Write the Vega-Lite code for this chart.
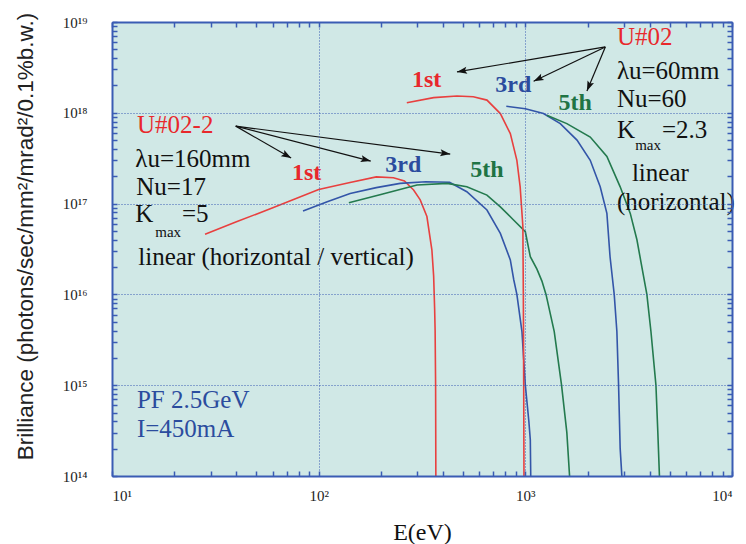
{
  "$schema": "https://vega.github.io/schema/vega-lite/v6.json",
  "width": 620,
  "height": 454,
  "autosize": {"type": "none"},
  "padding": {"left": 112, "top": 22, "right": 14, "bottom": 68},
  "background": "white",
  "config": {
    "view": {"fill": "#d0e8e6", "stroke": null},
    "axis": {
      "domainColor": "#3a5cb4", "domainWidth": 2,
      "tickColor": "#3a5cb4", "tickWidth": 1.5,
      "labelFont": "Liberation Serif",
      "titleFont": "Liberation Serif",
      "labelColor": "#222222", "titleColor": "#111111"
    }
  },
  "datasets": {
    "curves": [
      {"series": "U02-2 1st", "E": 28.2, "B": 4.6e16},
      {"series": "U02-2 1st", "E": 40, "B": 6.3e16},
      {"series": "U02-2 1st", "E": 60, "B": 9.0e16},
      {"series": "U02-2 1st", "E": 100, "B": 1.43e17},
      {"series": "U02-2 1st", "E": 140, "B": 1.7e17},
      {"series": "U02-2 1st", "E": 190, "B": 1.97e17},
      {"series": "U02-2 1st", "E": 230, "B": 1.93e17},
      {"series": "U02-2 1st", "E": 260, "B": 1.78e17},
      {"series": "U02-2 1st", "E": 288, "B": 1.41e17},
      {"series": "U02-2 1st", "E": 310, "B": 1.1e17},
      {"series": "U02-2 1st", "E": 334, "B": 7.2e16},
      {"series": "U02-2 1st", "E": 353, "B": 3.1e16},
      {"series": "U02-2 1st", "E": 360, "B": 1.6e16},
      {"series": "U02-2 1st", "E": 364, "B": 7e15},
      {"series": "U02-2 1st", "E": 366, "B": 4e15},
      {"series": "U02-2 1st", "E": 368, "B": 1e15},
      {"series": "U02-2 1st", "E": 369, "B": 1e14},

      {"series": "U02-2 3rd", "E": 84, "B": 8.3e16},
      {"series": "U02-2 3rd", "E": 110, "B": 1.05e17},
      {"series": "U02-2 3rd", "E": 142, "B": 1.29e17},
      {"series": "U02-2 3rd", "E": 190, "B": 1.5e17},
      {"series": "U02-2 3rd", "E": 248, "B": 1.67e17},
      {"series": "U02-2 3rd", "E": 330, "B": 1.74e17},
      {"series": "U02-2 3rd", "E": 430, "B": 1.72e17},
      {"series": "U02-2 3rd", "E": 521, "B": 1.35e17},
      {"series": "U02-2 3rd", "E": 652, "B": 8.5e16},
      {"series": "U02-2 3rd", "E": 757, "B": 4.7e16},
      {"series": "U02-2 3rd", "E": 846, "B": 2.4e16},
      {"series": "U02-2 3rd", "E": 879, "B": 1.45e16},
      {"series": "U02-2 3rd", "E": 910, "B": 1e16},
      {"series": "U02-2 3rd", "E": 963, "B": 3.9e15},
      {"series": "U02-2 3rd", "E": 1000, "B": 1e15},
      {"series": "U02-2 3rd", "E": 1040, "B": 4e14},
      {"series": "U02-2 3rd", "E": 1057, "B": 2.5e14},
      {"series": "U02-2 3rd", "E": 1062, "B": 1e14},

      {"series": "U02-2 5th", "E": 140, "B": 1.02e17},
      {"series": "U02-2 5th", "E": 200, "B": 1.26e17},
      {"series": "U02-2 5th", "E": 299, "B": 1.6e17},
      {"series": "U02-2 5th", "E": 418, "B": 1.67e17},
      {"series": "U02-2 5th", "E": 521, "B": 1.53e17},
      {"series": "U02-2 5th", "E": 652, "B": 1.24e17},
      {"series": "U02-2 5th", "E": 757, "B": 9.2e16},
      {"series": "U02-2 5th", "E": 877, "B": 6.6e16},
      {"series": "U02-2 5th", "E": 1000, "B": 4.9e16},
      {"series": "U02-2 5th", "E": 1057, "B": 2.6e16},
      {"series": "U02-2 5th", "E": 1138, "B": 1.9e16},
      {"series": "U02-2 5th", "E": 1203, "B": 1.4e16},
      {"series": "U02-2 5th", "E": 1259, "B": 1e16},
      {"series": "U02-2 5th", "E": 1380, "B": 3.9e15},
      {"series": "U02-2 5th", "E": 1497, "B": 1e15},
      {"series": "U02-2 5th", "E": 1588, "B": 3e14},
      {"series": "U02-2 5th", "E": 1637, "B": 1e14},

      {"series": "U02 1st", "E": 267, "B": 1.29e18},
      {"series": "U02 1st", "E": 360, "B": 1.47e18},
      {"series": "U02 1st", "E": 467, "B": 1.53e18},
      {"series": "U02 1st", "E": 560, "B": 1.5e18},
      {"series": "U02 1st", "E": 652, "B": 1.38e18},
      {"series": "U02 1st", "E": 757, "B": 9.8e17},
      {"series": "U02 1st", "E": 846, "B": 5.9e17},
      {"series": "U02 1st", "E": 910, "B": 3.0e17},
      {"series": "U02 1st", "E": 944, "B": 1.53e17},
      {"series": "U02 1st", "E": 973, "B": 5.6e16},
      {"series": "U02 1st", "E": 978, "B": 1e16},
      {"series": "U02 1st", "E": 982, "B": 1e15},
      {"series": "U02 1st", "E": 985, "B": 1e14},

      {"series": "U02 3rd", "E": 809, "B": 1.18e18},
      {"series": "U02 3rd", "E": 1000, "B": 1.11e18},
      {"series": "U02 3rd", "E": 1224, "B": 9.8e17},
      {"series": "U02 3rd", "E": 1476, "B": 7.6e17},
      {"series": "U02 3rd", "E": 1778, "B": 5.0e17},
      {"series": "U02 3rd", "E": 2061, "B": 3.0e17},
      {"series": "U02 3rd", "E": 2303, "B": 1.53e17},
      {"series": "U02 3rd", "E": 2481, "B": 7.8e16},
      {"series": "U02 3rd", "E": 2570, "B": 2.6e16},
      {"series": "U02 3rd", "E": 2692, "B": 1e16},
      {"series": "U02 3rd", "E": 2773, "B": 3.9e15},
      {"series": "U02 3rd", "E": 2826, "B": 1e15},
      {"series": "U02 3rd", "E": 2877, "B": 2e14},
      {"series": "U02 3rd", "E": 2931, "B": 1e14},

      {"series": "U02 5th", "E": 1270, "B": 9.4e17},
      {"series": "U02 5th", "E": 1588, "B": 7.6e17},
      {"series": "U02 5th", "E": 2061, "B": 5.4e17},
      {"series": "U02 5th", "E": 2481, "B": 3.3e17},
      {"series": "U02 5th", "E": 2877, "B": 1.53e17},
      {"series": "U02 5th", "E": 3219, "B": 7.8e16},
      {"series": "U02 5th", "E": 3467, "B": 4e16},
      {"series": "U02 5th", "E": 3623, "B": 2.3e16},
      {"series": "U02 5th", "E": 3873, "B": 1e16},
      {"series": "U02 5th", "E": 4053, "B": 3.9e15},
      {"series": "U02 5th", "E": 4285, "B": 1e15},
      {"series": "U02 5th", "E": 4377, "B": 3e14},
      {"series": "U02 5th", "E": 4456, "B": 1e14}
    ],
    "arrows": [
      {"x": 39.7, "y": 7.13e17, "x2": 73.6, "y2": 3.17e17, "dir": 120},
      {"x": 39.7, "y": 7.13e17, "x2": 178.6, "y2": 2.94e17, "dir": 104.5},
      {"x": 39.7, "y": 7.13e17, "x2": 433, "y2": 3.51e17, "dir": 97.4},
      {"x": 2438, "y": 5.31e18, "x2": 467, "y2": 2.82e18, "dir": 260.4},
      {"x": 2438, "y": 5.31e18, "x2": 1097, "y2": 2.23e18, "dir": 244.4},
      {"x": 2438, "y": 5.31e18, "x2": 1986, "y2": 1.74e18, "dir": 202.6}
    ],
    "notes": [
      {"kind": "main", "tone": "red", "text": "U#02-2", "x": 13.22, "y": 5.92e17},
      {"kind": "main", "tone": "black", "text": "λu=160mm", "x": 12.97, "y": 2.54e17},
      {"kind": "main", "tone": "black", "text": "Nu=17", "x": 13.11, "y": 1.24e17},
      {"kind": "main", "tone": "black", "text": "K", "x": 12.97, "y": 6.31e16},
      {"kind": "main", "tone": "black", "text": "=5", "x": 21.8, "y": 6.31e16},
      {"kind": "main", "tone": "black", "text": "linear (horizontal / vertical)", "x": 13.4, "y": 2.11e16},
      {"kind": "main", "tone": "red", "text": "U#02", "x": 2773, "y": 5.55e18},
      {"kind": "main", "tone": "black", "text": "λu=60mm", "x": 2773, "y": 2.38e18},
      {"kind": "main", "tone": "black", "text": "Nu=60", "x": 2773, "y": 1.16e18},
      {"kind": "main", "tone": "black", "text": "K", "x": 2773, "y": 5.22e17},
      {"kind": "main", "tone": "black", "text": "=2.3", "x": 4581, "y": 5.22e17},
      {"kind": "main", "tone": "black", "text": "linear", "x": 3279, "y": 1.77e17},
      {"kind": "main", "tone": "black", "text": "(horizontal)", "x": 2773, "y": 8.48e16},
      {"kind": "main", "tone": "blue", "text": "PF 2.5GeV", "x": 13.2, "y": 5.58e14},
      {"kind": "main", "tone": "blue", "text": "I=450mA", "x": 13.2, "y": 2.72e14},
      {"kind": "sub", "tone": "black", "text": "max", "x": 16.2, "y": 4.31e16},
      {"kind": "sub", "tone": "black", "text": "max", "x": 3401, "y": 3.88e17},
      {"kind": "harm", "tone": "red", "text": "1st", "x": 282.8, "y": 1.93e18},
      {"kind": "harm", "tone": "blue", "text": "3rd", "x": 715, "y": 1.70e18},
      {"kind": "harm", "tone": "green", "text": "5th", "x": 1448, "y": 1.07e18},
      {"kind": "harm", "tone": "red", "text": "1st", "x": 74.3, "y": 1.81e17},
      {"kind": "harm", "tone": "blue", "text": "3rd", "x": 210, "y": 2.24e17},
      {"kind": "harm", "tone": "green", "text": "5th", "x": 541, "y": 1.97e17}
    ]
  },
  "layer": [
    {
      "layer": [
        {
          "data": {"name": "curves"},
          "mark": {"type": "line", "strokeWidth": 1.6, "clip": true},
          "encoding": {
            "x": {
              "field": "E", "type": "quantitative",
              "scale": {"type": "log", "domain": [10, 10000], "nice": false},
              "axis": {
                "orient": "bottom", "zindex": 1,
                "values": [10, 100, 1000, 10000],
                "labelExpr": "datum.value == 10 ? '10¹' : datum.value == 100 ? '10²' : datum.value == 1000 ? '10³' : '10⁴'",
                "grid": true, "gridColor": "#3a5cb4", "gridDash": [1, 2],
                "ticks": false, "domain": true, "domainColor": "#3a5cb4", "domainWidth": 2,
                "labelFontSize": 15, "labelPadding": 12,
                "title": "E(eV)", "titleFontSize": 24, "titleFontWeight": "normal",
                "titleX": 310, "titleY": 56, "titleAlign": "center", "titleBaseline": "middle"
              }
            },
            "y": {
              "field": "B", "type": "quantitative",
              "scale": {"type": "log", "domain": [1e14, 1e19], "nice": false},
              "axis": {
                "orient": "left", "zindex": 1,
                "values": [1e14, 1e15, 1e16, 1e17, 1e18, 1e19],
                "labelExpr": "datum.value == 1e14 ? '10¹⁴' : datum.value == 1e15 ? '10¹⁵' : datum.value == 1e16 ? '10¹⁶' : datum.value == 1e17 ? '10¹⁷' : datum.value == 1e18 ? '10¹⁸' : '10¹⁹'",
                "grid": true, "gridColor": "#3a5cb4", "gridDash": [1, 2],
                "ticks": false, "domain": true, "domainColor": "#3a5cb4", "domainWidth": 2,
                "labelFontSize": 15, "labelPadding": 25, "labelBaseline": "middle",
                "title": "Brilliance (photons/sec/mm²/mrad²/0.1%b.w.)",
                "titleFont": "Liberation Sans", "titleFontSize": 22.5, "titleFontWeight": "normal", "titleColor": "#222222",
                "titleAngle": -90, "titleX": -87, "titleY": 214, "titleAlign": "center", "titleBaseline": "middle"
              }
            },
            "color": {
              "field": "series", "type": "nominal",
              "scale": {
                "domain": ["U02-2 1st", "U02-2 3rd", "U02-2 5th", "U02 1st", "U02 3rd", "U02 5th"],
                "range": ["#e8403f", "#3355a8", "#237a4e", "#e8403f", "#3355a8", "#237a4e"]
              },
              "legend": null
            }
          }
        },
        {
          "data": {"name": "arrows"},
          "mark": {"type": "rule", "color": "#111111", "strokeWidth": 1.2},
          "encoding": {
            "x": {"field": "x", "type": "quantitative", "scale": {"type": "log", "domain": [10, 10000], "nice": false}},
            "y": {"field": "y", "type": "quantitative", "scale": {"type": "log", "domain": [1e14, 1e19], "nice": false}},
            "x2": {"field": "x2"},
            "y2": {"field": "y2"}
          }
        },
        {
          "data": {"name": "arrows"},
          "mark": {"type": "point", "shape": "M0,0L-0.7,2L0,1.6L0.7,2Z", "filled": true, "color": "#111111", "opacity": 1, "size": 100},
          "encoding": {
            "x": {"field": "x2", "type": "quantitative", "scale": {"type": "log", "domain": [10, 10000], "nice": false}},
            "y": {"field": "y2", "type": "quantitative", "scale": {"type": "log", "domain": [1e14, 1e19], "nice": false}},
            "angle": {"field": "dir", "type": "quantitative", "scale": null}
          }
        },
        {
          "data": {"name": "notes"},
          "transform": [{"filter": "datum.kind == 'main'"}],
          "mark": {"type": "text", "align": "left", "baseline": "alphabetic", "font": "Liberation Serif", "fontSize": 25},
          "encoding": {
            "x": {"field": "x", "type": "quantitative", "scale": {"type": "log", "domain": [10, 10000], "nice": false}},
            "y": {"field": "y", "type": "quantitative", "scale": {"type": "log", "domain": [1e14, 1e19], "nice": false}},
            "text": {"field": "text"},
            "color": {"field": "tone", "type": "nominal", "scale": {"domain": ["black", "red", "blue", "green"], "range": ["#111111", "#e8282c", "#2b4c9e", "#1f7444"]}, "legend": null}
          }
        },
        {
          "data": {"name": "notes"},
          "transform": [{"filter": "datum.kind == 'sub'"}],
          "mark": {"type": "text", "align": "left", "baseline": "alphabetic", "font": "Liberation Serif", "fontSize": 15},
          "encoding": {
            "x": {"field": "x", "type": "quantitative", "scale": {"type": "log", "domain": [10, 10000], "nice": false}},
            "y": {"field": "y", "type": "quantitative", "scale": {"type": "log", "domain": [1e14, 1e19], "nice": false}},
            "text": {"field": "text"},
            "color": {"field": "tone", "type": "nominal", "scale": {"domain": ["black", "red", "blue", "green"], "range": ["#111111", "#e8282c", "#2b4c9e", "#1f7444"]}, "legend": null}
          }
        },
        {
          "data": {"name": "notes"},
          "transform": [{"filter": "datum.kind == 'harm'"}],
          "mark": {"type": "text", "align": "left", "baseline": "alphabetic", "font": "Liberation Serif", "fontSize": 24, "fontWeight": "bold"},
          "encoding": {
            "x": {"field": "x", "type": "quantitative", "scale": {"type": "log", "domain": [10, 10000], "nice": false}},
            "y": {"field": "y", "type": "quantitative", "scale": {"type": "log", "domain": [1e14, 1e19], "nice": false}},
            "text": {"field": "text"},
            "color": {"field": "tone", "type": "nominal", "scale": {"domain": ["black", "red", "blue", "green"], "range": ["#111111", "#e8282c", "#2b4c9e", "#1f7444"]}, "legend": null}
          }
        }
      ],
      "resolve": {"scale": {"color": "independent"}}
    },
    {
      "data": {"name": "curves"},
      "mark": {"type": "line", "opacity": 0},
      "encoding": {
        "x": {
          "field": "E", "type": "quantitative",
          "scale": {"type": "log", "domain": [10, 10000], "nice": false},
          "axis": {
            "orient": "top", "zindex": 1, "tickCount": 50, "labelExpr": "''",
            "grid": false, "title": null, "domain": true, "domainColor": "#3a5cb4", "domainWidth": 2,
            "ticks": true, "tickSize": -5, "tickColor": "#3a5cb4", "tickWidth": 1.5
          }
        },
        "y": {
          "field": "B", "type": "quantitative",
          "scale": {"type": "log", "domain": [1e14, 1e19], "nice": false},
          "axis": {
            "orient": "right", "zindex": 1, "tickCount": 50, "labelExpr": "''",
            "grid": false, "title": null, "domain": true, "domainColor": "#3a5cb4", "domainWidth": 2,
            "ticks": true, "tickSize": -5, "tickColor": "#3a5cb4", "tickWidth": 1.5
          }
        }
      }
    },
    {
      "data": {"name": "curves"},
      "mark": {"type": "line", "opacity": 0},
      "encoding": {
        "x": {
          "field": "E", "type": "quantitative",
          "scale": {"type": "log", "domain": [10, 10000], "nice": false},
          "axis": {
            "orient": "bottom", "zindex": 1, "tickCount": 50, "labelExpr": "''",
            "grid": false, "title": null, "domain": false,
            "ticks": true, "tickSize": -5, "tickColor": "#3a5cb4", "tickWidth": 1.5
          }
        },
        "y": {
          "field": "B", "type": "quantitative",
          "scale": {"type": "log", "domain": [1e14, 1e19], "nice": false},
          "axis": {
            "orient": "left", "zindex": 1, "tickCount": 50, "labelExpr": "''",
            "grid": false, "title": null, "domain": false,
            "ticks": true, "tickSize": -5, "tickColor": "#3a5cb4", "tickWidth": 1.5
          }
        }
      }
    }
  ],
  "resolve": {"axis": {"x": "independent", "y": "independent"}}
}
